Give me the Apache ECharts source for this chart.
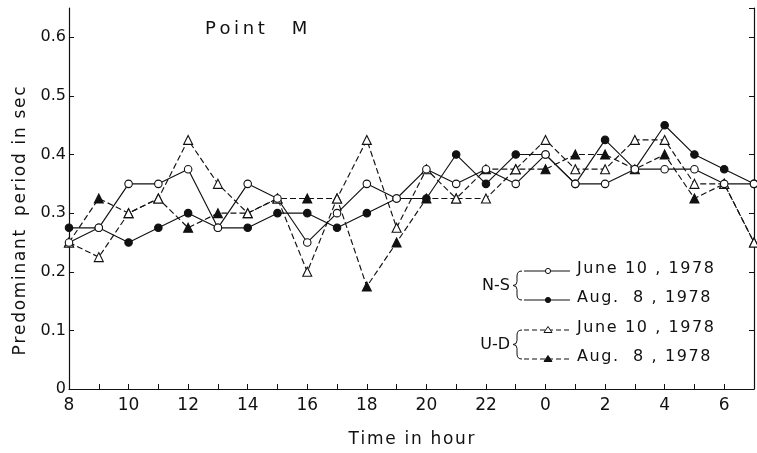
<!DOCTYPE html>
<html>
<head>
<meta charset="utf-8">
<script src="https://cdn.jsdelivr.net/npm/echarts@6/dist/echarts.min.js"></script>
<style>
  html, body { margin: 0; padding: 0; background: #fff; }
  #chart { width: 757px; height: 453px; }
</style>
</head>
<body>
<div id="chart"></div>
<script>
// Hour of day, from 8 h through midnight to 7 h next morning
const hours = ['8','9','10','11','12','13','14','15','16','17','18','19','20','21','22','23',
               '0','1','2','3','4','5','6','7'];

// Predominant period (s), N-S component
const nsJune10 = [0.25, 0.275, 0.35, 0.35, 0.375, 0.275, 0.35, 0.325, 0.25, 0.30, 0.35, 0.325,
                  0.375, 0.35, 0.375, 0.35, 0.40, 0.35, 0.35, 0.375, 0.375, 0.375, 0.35, 0.35];
const nsAug8   = [0.275, 0.275, 0.25, 0.275, 0.30, 0.275, 0.275, 0.30, 0.30, 0.275, 0.30, 0.325,
                  0.325, 0.40, 0.35, 0.40, 0.40, 0.35, 0.425, 0.375, 0.45, 0.40, 0.375, 0.35];

// Predominant period (s), U-D component
const udJune10 = [0.25, 0.225, 0.30, 0.325, 0.425, 0.35, 0.30, 0.325, 0.20, 0.325, 0.425, 0.275,
                  0.375, 0.325, 0.325, 0.375, 0.425, 0.375, 0.375, 0.425, 0.425, 0.35, 0.35, 0.25];
const udAug8   = [0.25, 0.325, 0.30, 0.325, 0.275, 0.30, 0.30, 0.325, 0.325, 0.325, 0.175, 0.25,
                  0.325, 0.325, 0.375, 0.375, 0.375, 0.40, 0.40, 0.375, 0.40, 0.325, 0.35, 0.25];

const yTicks = [0, 0.1, 0.2, 0.3, 0.4, 0.5, 0.6];

const FONT = 'DejaVu Sans';
const INK = '#111';

// Letter-spaced text: a narrow space between every character
function spaced(s, sep) {
  return s.split('').join(sep || '\u200A');
}

function lineSeries(name, data, symbol, filled, dashed) {
  return {
    name: name,
    type: 'line',
    data: data,
    symbol: symbol,
    symbolSize: symbol === 'triangle' ? 9 : 7.5,
    showAllSymbol: true,
    z: filled ? 3 : 4,
    lineStyle: { color: INK, width: 1.15, type: dashed ? [6, 3] : 'solid' },
    itemStyle: { color: filled ? INK : '#fff', borderColor: INK, borderWidth: 1.1 },
    emphasis: { disabled: true },
    animation: false
  };
}

const chart = echarts.init(document.getElementById('chart'), null, { renderer: 'canvas' });

// Legend drawn by hand: component label, brace, and a sample of each line style
const legendRows = [
  { y: 271, text: 'June 10 , 1978', dashed: false, mark: 'circle', filled: false },
  { y: 300, text: 'Aug.  8 , 1978', dashed: false, mark: 'circle', filled: true },
  { y: 330, text: 'June 10 , 1978', dashed: true, mark: 'triangle', filled: false },
  { y: 359, text: 'Aug.  8 , 1978', dashed: true, mark: 'triangle', filled: true }
];

const LEG_FONT = '16px "' + FONT + '"';
const legendGraphics = [];
legendRows.forEach(function (r) {
  legendGraphics.push({
    type: 'line', shape: { x1: 524, y1: r.y, x2: 570, y2: r.y },
    style: { stroke: INK, lineWidth: 1, lineDash: r.dashed ? [5, 3] : null }
  });
  if (r.mark === 'circle') {
    legendGraphics.push({
      type: 'circle', shape: { cx: 548, cy: r.y, r: 2.6 },
      style: { fill: r.filled ? INK : '#fff', stroke: INK, lineWidth: 1 }
    });
  } else {
    legendGraphics.push({
      type: 'polygon', shape: { points: [[548, r.y - 3.5], [544, r.y + 2.5], [552, r.y + 2.5]] },
      style: { fill: r.filled ? INK : '#fff', stroke: INK, lineWidth: 1 }
    });
  }
  legendGraphics.push({
    type: 'text', x: 577, y: r.y - 10,
    style: { text: spaced(r.text), font: LEG_FONT, fill: INK }
  });
});

// Curly brace opening to the right, tip at x, spanning yTop..yBot
function brace(x, yTop, yBot) {
  const ym = (yTop + yBot) / 2;
  const s = { fill: null, stroke: INK, lineWidth: 1 };
  const c = x + 4;
  return [
    { type: 'bezierCurve', shape: { x1: x + 9, y1: yTop, cpx1: c, cpy1: yTop, x2: c, y2: yTop + 5 }, style: s },
    { type: 'line', shape: { x1: c, y1: yTop + 5, x2: c, y2: ym - 4 }, style: s },
    { type: 'bezierCurve', shape: { x1: c, y1: ym - 4, cpx1: c, cpy1: ym, x2: x, y2: ym }, style: s },
    { type: 'bezierCurve', shape: { x1: x, y1: ym, cpx1: c, cpy1: ym, x2: c, y2: ym + 4 }, style: s },
    { type: 'line', shape: { x1: c, y1: ym + 4, x2: c, y2: yBot - 5 }, style: s },
    { type: 'bezierCurve', shape: { x1: c, y1: yBot - 5, cpx1: c, cpy1: yBot, x2: x + 9, y2: yBot }, style: s }
  ];
}

Array.prototype.push.apply(legendGraphics, brace(513, 271, 300));
Array.prototype.push.apply(legendGraphics, brace(513, 330, 359));
legendGraphics.push({
  type: 'text', x: 510, y: 286,
  style: { text: 'N-S', font: LEG_FONT, fill: INK, align: 'right', verticalAlign: 'middle' }
});
legendGraphics.push({
  type: 'text', x: 510, y: 345,
  style: { text: 'U-D', font: LEG_FONT, fill: INK, align: 'right', verticalAlign: 'middle' }
});
// Plot title
legendGraphics.push({
  type: 'text', x: 205, y: 20,
  style: { text: spaced('Point', '\u2009') + '\u2003\u2002' + 'M', font: '18px "' + FONT + '"', fill: INK }
});
// Vertical axis title
legendGraphics.push({
  type: 'text', x: 21, y: 221, rotation: Math.PI / 2,
  style: {
    text: spaced('Predominant') + '\u2002 ' + spaced('period in sec'),
    font: '17px "' + FONT + '"', fill: INK, align: 'center', verticalAlign: 'middle'
  }
});

const option = {
  backgroundColor: '#fff',
  animation: false,
  grid: { left: 69, right: 3, top: 8, bottom: 62, containLabel: false },
  xAxis: {
    type: 'category',
    data: hours,
    boundaryGap: false,
    name: spaced('Time in hour'),
    nameLocation: 'middle',
    nameGap: 42,
    nameTextStyle: { fontFamily: FONT, fontSize: 17, color: INK },
    axisLine: { lineStyle: { color: INK, width: 1.2 } },
    axisTick: { inside: true, length: 5, interval: 0, lineStyle: { color: INK } },
    axisLabel: { interval: 1, fontFamily: FONT, fontSize: 17, color: INK, margin: 8 },
    splitLine: { show: false }
  },
  yAxis: [{
    type: 'value',
    min: 0, max: 0.65, interval: 0.1,
    axisLine: { show: true, lineStyle: { color: INK, width: 1.2 } },
    axisTick: { show: true, inside: true, length: 5, lineStyle: { color: INK } },
    axisLabel: {
      fontFamily: FONT, fontSize: 16, color: INK, margin: 3, showMaxLabel: false,
      formatter: function (v) {
        const t = yTicks.find(function (k) { return Math.abs(k - v) < 1e-6; });
        if (t === undefined) return '';
        return t === 0 ? '0' : t.toFixed(1);
      }
    },
    splitLine: { show: false }
  }, {
    type: 'value',
    position: 'right',
    min: 0, max: 0.65, interval: 0.1,
    axisLine: { show: true, lineStyle: { color: INK, width: 1.2 } },
    axisTick: { show: true, inside: true, length: 5, lineStyle: { color: INK } },
    axisLabel: { show: false },
    splitLine: { show: false }
  }],
  series: [
    lineSeries('U-D Aug. 8, 1978', udAug8, 'triangle', true, true),
    lineSeries('U-D June 10, 1978', udJune10, 'triangle', false, true),
    lineSeries('N-S Aug. 8, 1978', nsAug8, 'circle', true, false),
    lineSeries('N-S June 10, 1978', nsJune10, 'circle', false, false)
  ],
  graphic: legendGraphics
};

chart.setOption(option);
</script>
</body>
</html>
